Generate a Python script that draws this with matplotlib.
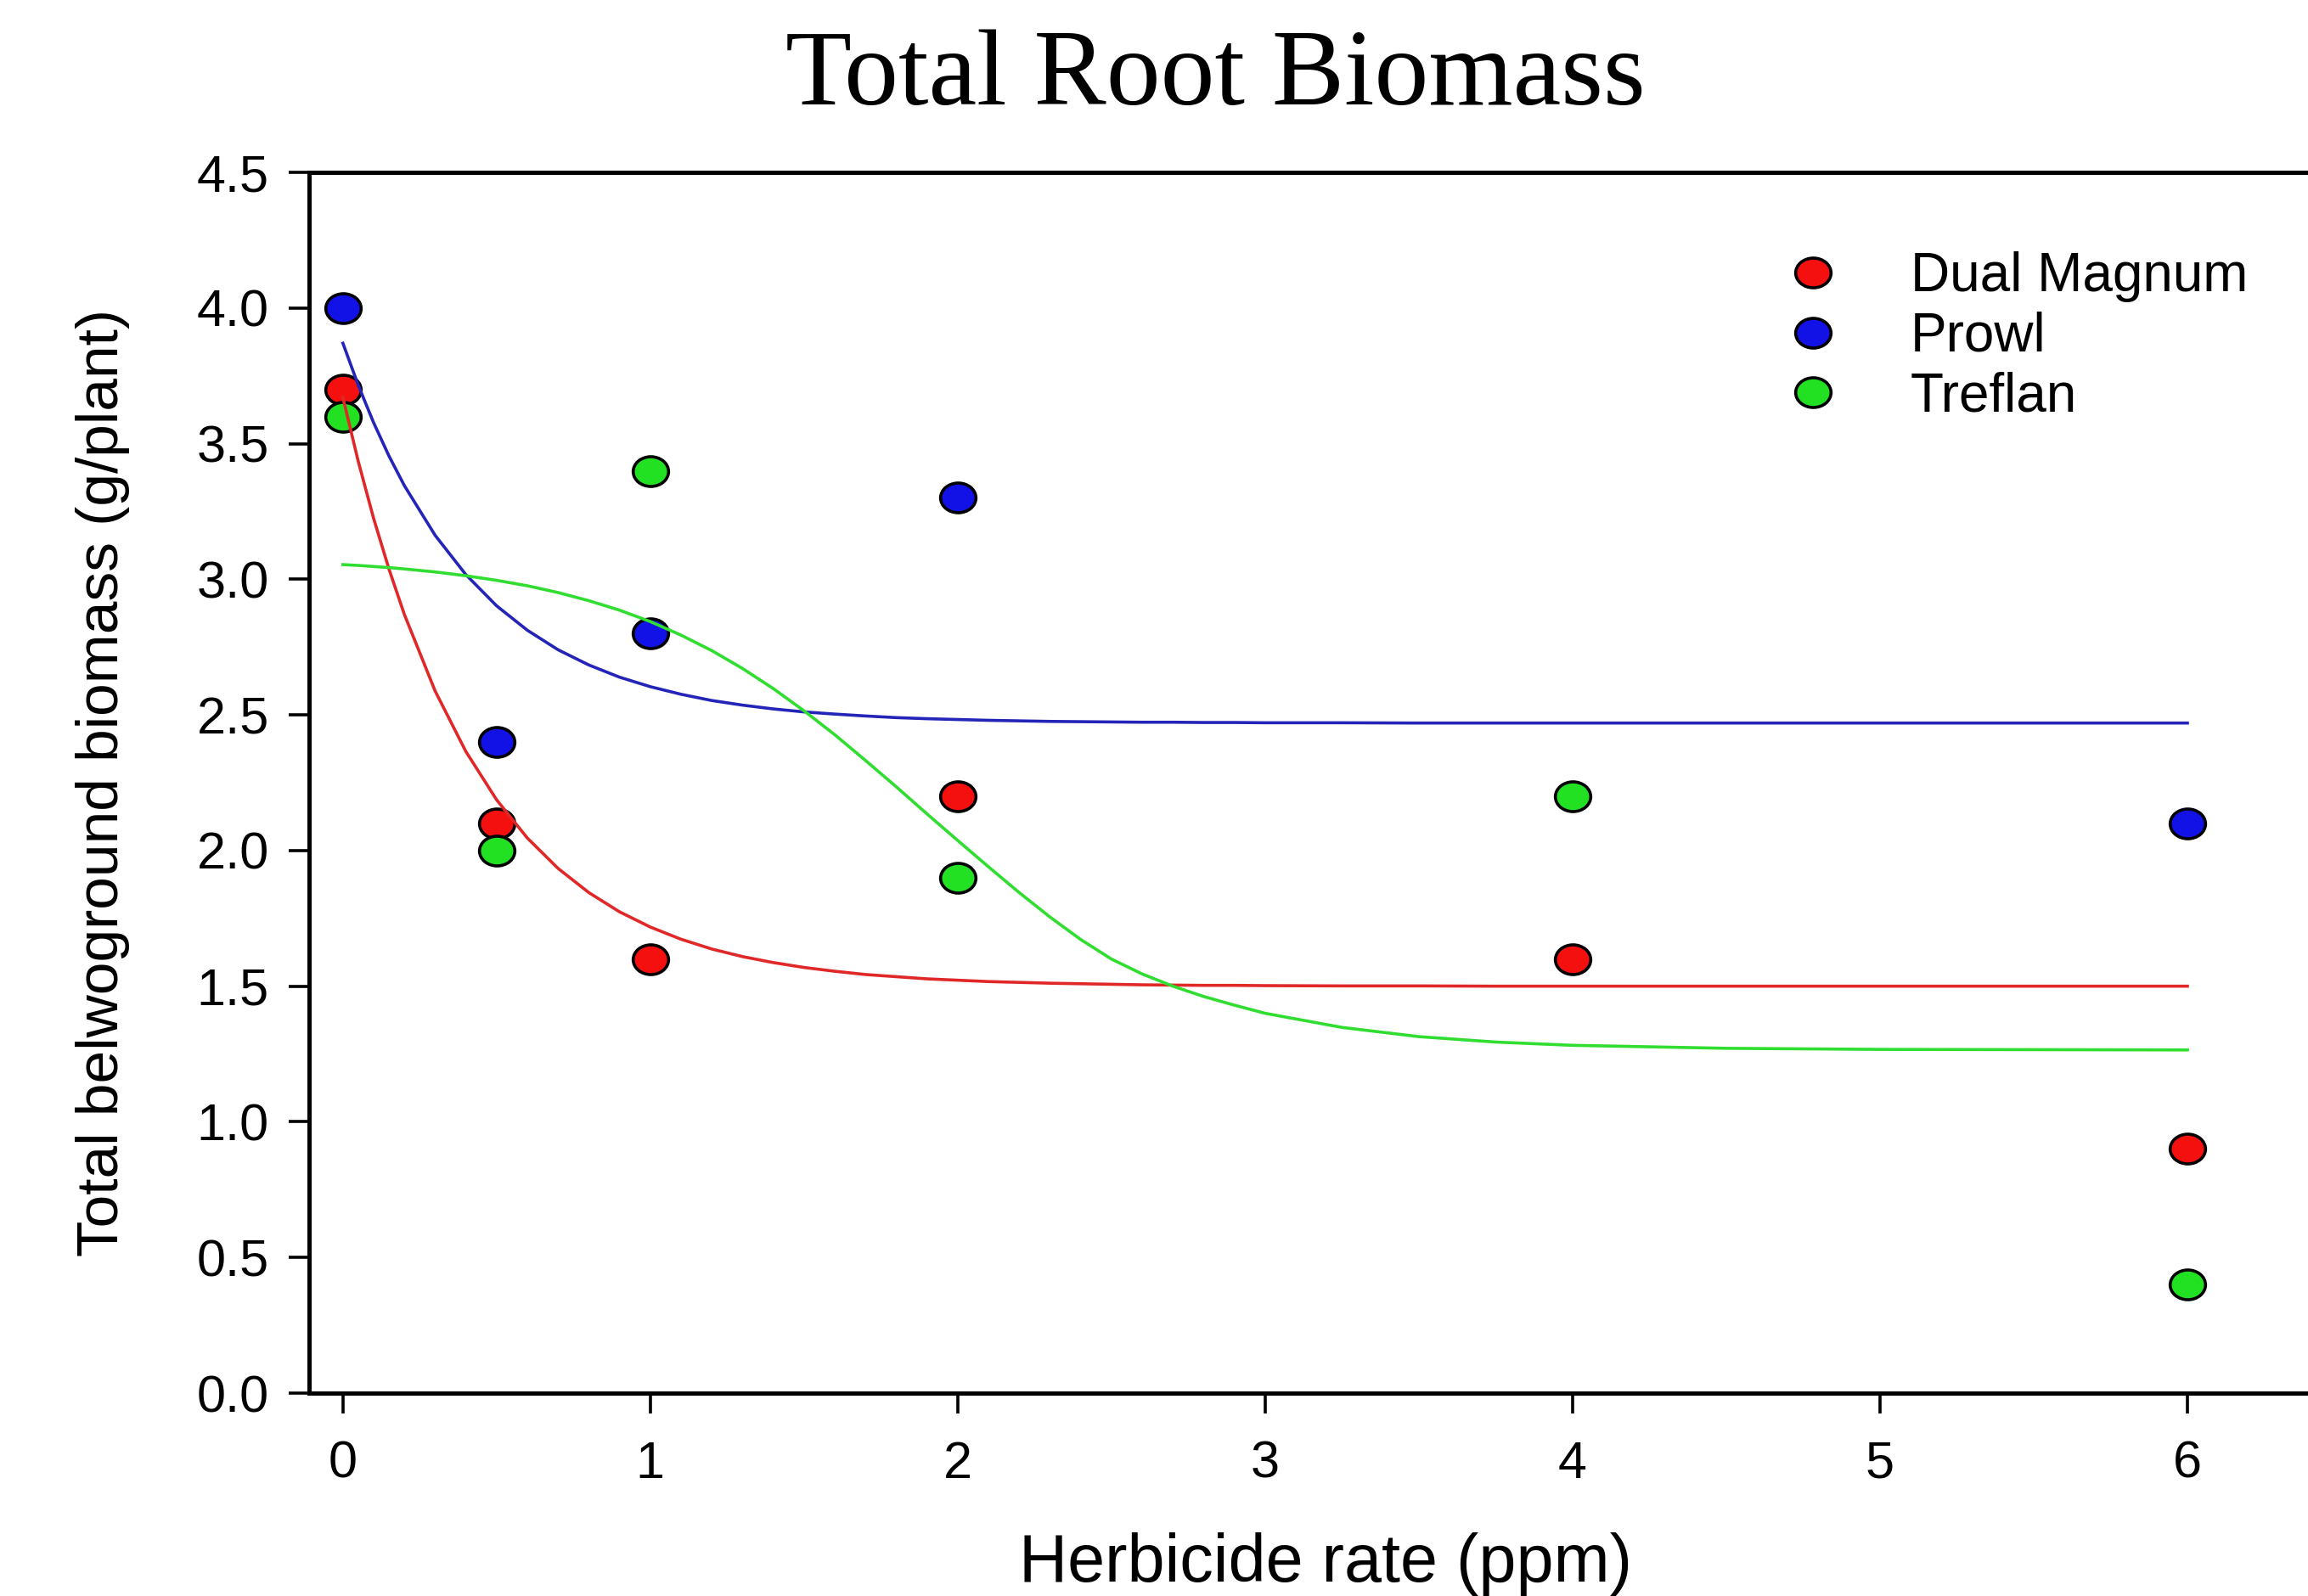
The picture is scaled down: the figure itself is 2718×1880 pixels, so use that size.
import matplotlib
matplotlib.use("Agg")
import matplotlib.pyplot as plt
from matplotlib.path import Path
from matplotlib.transforms import Affine2D
from matplotlib.ticker import FormatStrFormatter

plt.rcParams['font.family'] = ['Liberation Sans', 'DejaVu Sans']

# ---- data ----
series_names = ["Dual Magnum", "Prowl", "Treflan"]

dose_dual = [0, 0.5, 1, 2, 4, 6]
biomass_dual = [3.7, 2.1, 1.6, 2.2, 1.6, 0.9]

dose_prowl = [0, 0.5, 1, 2, 6]
biomass_prowl = [4.0, 2.4, 2.8, 3.3, 2.1]

dose_treflan = [0, 0.5, 1, 2, 4, 6]
biomass_treflan = [3.6, 2.0, 3.4, 1.9, 2.2, 0.4]

# fitted curves
fit_x = [0, 0.05, 0.1, 0.15, 0.2, 0.3, 0.4, 0.5, 0.6, 0.7, 0.8, 0.9, 1.0,
         1.1, 1.2, 1.3, 1.4, 1.5, 1.6, 1.7, 1.8, 1.9, 2.0, 2.1, 2.2, 2.3,
         2.4, 2.5, 2.6, 2.7, 2.8, 2.9, 3.0, 3.25, 3.5, 3.75, 4.0, 4.5, 5.0,
         5.5, 6.0]
fit_dual = [3.670, 3.434, 3.224, 3.037, 2.870, 2.588, 2.365, 2.187, 2.046,
            1.934, 1.845, 1.774, 1.718, 1.673, 1.637, 1.609, 1.587, 1.569,
            1.555, 1.543, 1.535, 1.527, 1.522, 1.517, 1.514, 1.511, 1.509,
            1.507, 1.505, 1.504, 1.503, 1.503, 1.502, 1.501, 1.501, 1.500,
            1.500, 1.500, 1.500, 1.500, 1.500]
fit_prowl = [3.870, 3.715, 3.577, 3.454, 3.345, 3.162, 3.017, 2.902, 2.812,
             2.740, 2.684, 2.639, 2.604, 2.576, 2.553, 2.536, 2.522, 2.511,
             2.503, 2.496, 2.490, 2.486, 2.483, 2.480, 2.478, 2.476, 2.475,
             2.474, 2.473, 2.473, 2.472, 2.472, 2.471, 2.471, 2.470, 2.470,
             2.470, 2.470, 2.470, 2.470, 2.470]
fit_treflan = [3.054, 3.051, 3.047, 3.043, 3.038, 3.027, 3.013, 2.996, 2.976,
               2.951, 2.921, 2.886, 2.844, 2.794, 2.737, 2.671, 2.597, 2.515,
               2.427, 2.332, 2.235, 2.135, 2.037, 1.940, 1.845, 1.755, 1.672,
               1.600, 1.545, 1.500, 1.462, 1.430, 1.400, 1.348, 1.314, 1.294,
               1.282, 1.271, 1.267, 1.266, 1.265]

x_ticks = [0, 1, 2, 3, 4, 5, 6]
y_ticks = [0.0, 0.5, 1.0, 1.5, 2.0, 2.5, 3.0, 3.5, 4.0, 4.5]

title_text = "Total Root Biomass"
xlabel_text = "Herbicide rate (ppm)"
ylabel_text = "Total belwoground biomass (g/plant)"

# ---- styling ----
marker_fill = ["#f51010", "#1212e6", "#22e022"]
line_colors = ["#e02828", "#2424b8", "#30dd30"]

W, H = 2718, 1880
fig = plt.figure(figsize=(W / 100, H / 100), dpi=100)
fig.patch.set_facecolor("white")

ax_left, ax_bottom_px, ax_top_px = 364, 1641, 203
ax_width_px = 2393
ax = fig.add_axes([ax_left / W, 1 - ax_bottom_px / H, ax_width_px / W,
                   (ax_bottom_px - ax_top_px) / H])
ax.set_xlim(-0.11, 6.5)
ax.set_ylim(0, 4.5)

ell = Path.unit_circle().transformed(Affine2D().scale(1.0, 0.84))

doses = [dose_dual, dose_prowl, dose_treflan]
values = [biomass_dual, biomass_prowl, biomass_treflan]
fits = [fit_dual, fit_prowl, fit_treflan]

handles = []
for name, d, v, fc in zip(series_names, doses, values, marker_fill):
    h, = ax.plot(d, v, linestyle="none", marker=ell, markersize=30,
                 markerfacecolor=fc, markeredgecolor="black",
                 markeredgewidth=2.6, label=name, zorder=2, clip_on=False)
    handles.append(h)

for f, lc in zip(fits, line_colors):
    ax.plot(fit_x, f, color=lc, linewidth=2.6, zorder=3)

for side in ["left", "bottom", "top"]:
    ax.spines[side].set_linewidth(3.6)
ax.spines["right"].set_visible(False)

ax.set_xticks(x_ticks)
ax.set_yticks(y_ticks)
ax.yaxis.set_major_formatter(FormatStrFormatter("%.1f"))
ax.tick_params(axis="both", direction="out", length=17, width=2.6,
               labelsize=44, colors="black")
ax.tick_params(axis="x", pad=23)
ax.tick_params(axis="y", pad=17)
ax.tick_params(top=False, right=False)

ax.set_xlabel(xlabel_text, fontsize=57, va="center")
ax.xaxis.set_label_coords(0.5, (ax_bottom_px - 1842) / (ax_bottom_px - ax_top_px))
ax.set_ylabel(ylabel_text, fontsize=50, va="center", ha="center")
ax.yaxis.set_label_coords((121 - ax_left) / ax_width_px, 0.5)

fig.text(1431 / W, 1 - 123 / H, title_text, family="Liberation Serif",
         fontsize=92, ha="center", va="baseline")

leg = ax.legend(handles, series_names, loc="upper left",
                bbox_to_anchor=(2103 / W, 1 - 296 / H),
                bbox_transform=fig.transFigure, frameon=False,
                fontsize=46, handlelength=1.0, handletextpad=1.3,
                labelspacing=0.17, borderpad=0, borderaxespad=0,
                markerscale=1.0)

fig.savefig("out.png", dpi=100, facecolor="white")
